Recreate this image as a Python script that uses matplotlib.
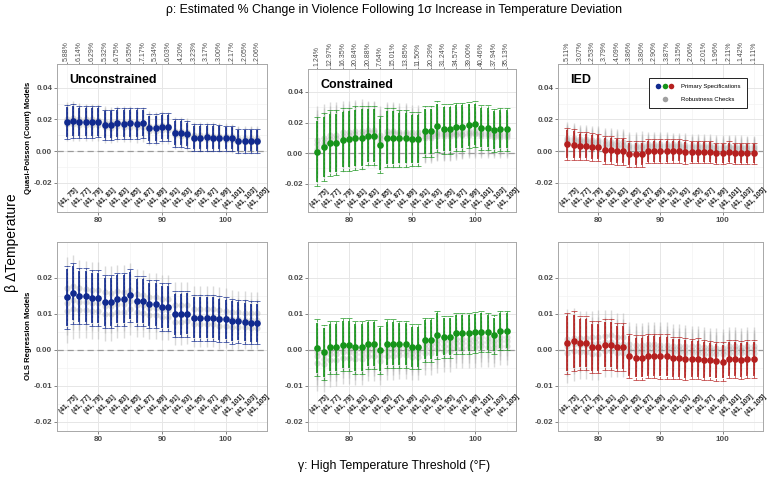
import matplotlib.pyplot as plt
import numpy as np
from matplotlib.lines import Line2D
from matplotlib.legend_handler import HandlerTuple
from matplotlib.ticker import MultipleLocator

plt.rcParams['font.family'] = ['Liberation Sans', 'DejaVu Sans']

# === Data ===
thresholds = np.arange(75, 106)
label_thresholds = thresholds[::2]

unc_pct = ['5.88%', '6.14%', '6.29%', '5.32%', '6.75%', '6.35%', '7.17%', '5.34%',
           '6.03%', '4.20%', '3.23%', '3.17%', '3.00%', '2.17%', '2.05%', '2.06%']
con_pct = ['1.24%', '12.97%', '16.35%', '20.84%', '20.88%', '7.64%', '15.01%', '13.85%',
           '11.50%', '20.29%', '31.24%', '34.57%', '39.00%', '40.46%', '37.94%', '35.13%']
ied_pct = ['5.11%', '3.07%', '2.53%', '3.79%', '4.09%', '3.86%', '3.80%', '2.90%',
           '3.87%', '3.15%', '2.06%', '2.01%', '1.96%', '2.11%', '1.42%', '1.11%']

top_ticks = [-0.02, 0.00, 0.02, 0.04]
bot_ticks = [-0.02, -0.01, 0.00, 0.01, 0.02]

# Quasi-Poisson, unconstrained
unc_qp_est = [0.0185, 0.0188, 0.0185, 0.0185, 0.0184, 0.0186, 0.0165, 0.0165, 0.0175, 0.0174, 0.0176,
              0.0172, 0.0177, 0.0143, 0.0143, 0.0152, 0.0152, 0.0113, 0.0113, 0.0106, 0.0085, 0.0085,
              0.0086, 0.0085, 0.0084, 0.0080, 0.0080, 0.0065, 0.0064, 0.0065, 0.0065]
unc_qp_ci = [0.0095, 0.0095, 0.0088, 0.0088, 0.0088, 0.0088, 0.0085, 0.0085, 0.0085, 0.0085, 0.0085,
             0.0085, 0.0085, 0.0078, 0.0078, 0.0076, 0.0076, 0.0075, 0.0075, 0.0074, 0.0072, 0.0072,
             0.0072, 0.0072, 0.0072, 0.0070, 0.0070, 0.0066, 0.0066, 0.0066, 0.0066]
unc_qp_wide = [0.0107, 0.0107, 0.0100, 0.0100, 0.0100, 0.0100, 0.0097, 0.0097, 0.0097, 0.0097, 0.0097,
               0.0097, 0.0097, 0.0090, 0.0090, 0.0088, 0.0088, 0.0087, 0.0087, 0.0086, 0.0083, 0.0083,
               0.0083, 0.0083, 0.0083, 0.0081, 0.0081, 0.0077, 0.0077, 0.0077, 0.0077]
unc_qp_rob = [
    [0.0205, 0.0208, 0.0204, 0.0200, 0.0200, 0.0198, 0.0185, 0.0183, 0.0188, 0.0186, 0.0187, 0.0182,
     0.0180, 0.0160, 0.0158, 0.0162, 0.0160, 0.0128, 0.0126, 0.0120, 0.0102, 0.0101, 0.0100, 0.0098,
     0.0097, 0.0094, 0.0093, 0.0082, 0.0081, 0.0080, 0.0080],
    [0.0168, 0.0170, 0.0166, 0.0165, 0.0163, 0.0164, 0.0150, 0.0148, 0.0156, 0.0155, 0.0154, 0.0150,
     0.0152, 0.0128, 0.0127, 0.0133, 0.0132, 0.0100, 0.0098, 0.0094, 0.0078, 0.0077, 0.0077, 0.0076,
     0.0075, 0.0071, 0.0070, 0.0058, 0.0058, 0.0057, 0.0057],
    [0.0192, 0.0195, 0.0190, 0.0190, 0.0188, 0.0190, 0.0172, 0.0170, 0.0180, 0.0178, 0.0180, 0.0176,
     0.0178, 0.0150, 0.0148, 0.0156, 0.0155, 0.0118, 0.0117, 0.0112, 0.0092, 0.0091, 0.0091, 0.0090,
     0.0089, 0.0086, 0.0085, 0.0072, 0.0071, 0.0072, 0.0071],
]

# Quasi-Poisson, constrained
con_qp_est = [0.0010, 0.0040, 0.0067, 0.0068, 0.0089, 0.0090, 0.0100, 0.0101, 0.0115, 0.0115, 0.0055,
              0.0102, 0.0102, 0.0098, 0.0098, 0.0091, 0.0091, 0.0143, 0.0143, 0.0176, 0.0159, 0.0159,
              0.0172, 0.0172, 0.0183, 0.0189, 0.0167, 0.0167, 0.0150, 0.0155, 0.0155]
con_qp_ci = [0.0200, 0.0195, 0.0190, 0.0190, 0.0183, 0.0183, 0.0185, 0.0185, 0.0172, 0.0172, 0.0165,
             0.0172, 0.0172, 0.0165, 0.0165, 0.0158, 0.0158, 0.0147, 0.0147, 0.0148, 0.0145, 0.0145,
             0.0140, 0.0140, 0.0135, 0.0135, 0.0128, 0.0128, 0.0124, 0.0124, 0.0124]
con_qp_wide = [0.0225, 0.0220, 0.0214, 0.0214, 0.0206, 0.0206, 0.0208, 0.0208, 0.0194, 0.0194, 0.0186,
               0.0194, 0.0194, 0.0186, 0.0186, 0.0178, 0.0178, 0.0166, 0.0166, 0.0167, 0.0164, 0.0164,
               0.0158, 0.0158, 0.0152, 0.0152, 0.0145, 0.0145, 0.0140, 0.0140, 0.0140]
con_qp_rob = [
    [0.0060, 0.0075, 0.0095, 0.0100, 0.0115, 0.0118, 0.0125, 0.0128, 0.0138, 0.0140, 0.0100, 0.0128,
     0.0130, 0.0125, 0.0126, 0.0120, 0.0120, 0.0125, 0.0126, 0.0140, 0.0135, 0.0136, 0.0140, 0.0142,
     0.0145, 0.0148, 0.0138, 0.0136, 0.0130, 0.0132, 0.0132],
    [0.0030, 0.0050, 0.0070, 0.0072, 0.0085, 0.0088, 0.0095, 0.0096, 0.0105, 0.0106, 0.0070, 0.0095,
     0.0096, 0.0092, 0.0093, 0.0088, 0.0088, 0.0100, 0.0101, 0.0115, 0.0110, 0.0111, 0.0116, 0.0117,
     0.0120, 0.0122, 0.0113, 0.0112, 0.0106, 0.0108, 0.0108],
    [0.0085, 0.0100, 0.0118, 0.0120, 0.0135, 0.0136, 0.0142, 0.0143, 0.0150, 0.0150, 0.0120, 0.0142,
     0.0143, 0.0140, 0.0140, 0.0135, 0.0136, 0.0110, 0.0112, 0.0125, 0.0122, 0.0122, 0.0128, 0.0128,
     0.0132, 0.0134, 0.0125, 0.0124, 0.0118, 0.0120, 0.0120],
]

# Quasi-Poisson, IED
ied_qp_est = [0.0044, 0.0040, 0.0032, 0.0032, 0.0025, 0.0023, 0.0006, 0.0006, 0.0000, 0.0000, -0.0019,
              -0.0019, -0.0019, 0.0000, 0.0000, 0.0000, 0.0000, 0.0000, 0.0000, -0.0006, -0.0006, -0.0006,
              -0.0006, -0.0006, -0.0015, -0.0015, -0.0006, -0.0015, -0.0015, -0.0015, -0.0015]
ied_qp_ci = [0.0087, 0.0085, 0.0078, 0.0078, 0.0076, 0.0076, 0.0075, 0.0075, 0.0074, 0.0074, 0.0072,
             0.0072, 0.0072, 0.0066, 0.0066, 0.0066, 0.0066, 0.0064, 0.0064, 0.0063, 0.0062, 0.0062,
             0.0062, 0.0062, 0.0060, 0.0060, 0.0060, 0.0060, 0.0058, 0.0058, 0.0058]
ied_qp_wide = [0.0099, 0.0097, 0.0089, 0.0089, 0.0087, 0.0087, 0.0086, 0.0086, 0.0085, 0.0085, 0.0083,
               0.0083, 0.0083, 0.0076, 0.0076, 0.0076, 0.0076, 0.0074, 0.0074, 0.0073, 0.0072, 0.0072,
               0.0072, 0.0072, 0.0069, 0.0069, 0.0069, 0.0069, 0.0067, 0.0067, 0.0067]
ied_qp_rob = [
    [0.0085, 0.0082, 0.0078, 0.0076, 0.0072, 0.0070, 0.0062, 0.0060, 0.0056, 0.0055, 0.0040, 0.0040,
     0.0041, 0.0045, 0.0045, 0.0044, 0.0044, 0.0043, 0.0042, 0.0038, 0.0038, 0.0037, 0.0037, 0.0036,
     0.0032, 0.0032, 0.0035, 0.0032, 0.0032, 0.0031, 0.0031],
    [0.0060, 0.0058, 0.0052, 0.0050, 0.0046, 0.0045, 0.0032, 0.0030, 0.0026, 0.0026, 0.0010, 0.0010,
     0.0011, 0.0020, 0.0020, 0.0020, 0.0019, 0.0018, 0.0018, 0.0014, 0.0014, 0.0013, 0.0013, 0.0013,
     0.0008, 0.0008, 0.0012, 0.0008, 0.0008, 0.0008, 0.0008],
    [0.0072, 0.0070, 0.0065, 0.0064, 0.0060, 0.0058, 0.0046, 0.0045, 0.0040, 0.0040, 0.0025, 0.0025,
     0.0026, 0.0032, 0.0032, 0.0031, 0.0031, 0.0030, 0.0030, 0.0026, 0.0026, 0.0025, 0.0025, 0.0025,
     0.0020, 0.0020, 0.0024, 0.0020, 0.0020, 0.0020, 0.0020],
]

# OLS, unconstrained
unc_ols_est = [0.0146, 0.0158, 0.0149, 0.0149, 0.0145, 0.0145, 0.0134, 0.0134, 0.0141, 0.0141, 0.0152,
               0.0136, 0.0136, 0.0127, 0.0127, 0.0120, 0.0120, 0.0099, 0.0099, 0.0101, 0.0090, 0.0090,
               0.0090, 0.0090, 0.0085, 0.0085, 0.0080, 0.0080, 0.0078, 0.0076, 0.0076]
unc_ols_ci = [0.0079, 0.0076, 0.0070, 0.0070, 0.0069, 0.0069, 0.0066, 0.0066, 0.0066, 0.0066, 0.0065,
              0.0062, 0.0062, 0.0060, 0.0060, 0.0059, 0.0059, 0.0057, 0.0057, 0.0057, 0.0057, 0.0057,
              0.0057, 0.0057, 0.0057, 0.0055, 0.0055, 0.0053, 0.0053, 0.0053, 0.0053]
unc_ols_wide = [0.0088, 0.0085, 0.0078, 0.0078, 0.0077, 0.0077, 0.0074, 0.0074, 0.0074, 0.0074, 0.0073,
                0.0069, 0.0069, 0.0067, 0.0067, 0.0066, 0.0066, 0.0064, 0.0064, 0.0064, 0.0064, 0.0064,
                0.0064, 0.0064, 0.0064, 0.0062, 0.0062, 0.0060, 0.0060, 0.0060, 0.0060]
unc_ols_rob = [
    [0.0171, 0.0178, 0.0172, 0.0170, 0.0168, 0.0167, 0.0160, 0.0158, 0.0163, 0.0162, 0.0168, 0.0155,
     0.0154, 0.0148, 0.0147, 0.0142, 0.0141, 0.0125, 0.0124, 0.0124, 0.0115, 0.0114, 0.0114, 0.0113,
     0.0110, 0.0109, 0.0106, 0.0105, 0.0104, 0.0102, 0.0102],
    [0.0107, 0.0115, 0.0110, 0.0110, 0.0108, 0.0108, 0.0100, 0.0100, 0.0106, 0.0106, 0.0114, 0.0105,
     0.0104, 0.0098, 0.0098, 0.0093, 0.0093, 0.0078, 0.0078, 0.0080, 0.0072, 0.0072, 0.0072, 0.0072,
     0.0068, 0.0068, 0.0064, 0.0064, 0.0063, 0.0062, 0.0062],
    [0.0130, 0.0140, 0.0134, 0.0133, 0.0130, 0.0130, 0.0122, 0.0121, 0.0128, 0.0127, 0.0136, 0.0124,
     0.0124, 0.0118, 0.0117, 0.0112, 0.0112, 0.0098, 0.0097, 0.0100, 0.0092, 0.0092, 0.0092, 0.0091,
     0.0088, 0.0088, 0.0085, 0.0085, 0.0083, 0.0082, 0.0082],
]

# OLS, constrained
con_ols_est = [0.0006, -0.0006, 0.0007, 0.0007, 0.0015, 0.0015, 0.0007, 0.0007, 0.0016, 0.0016, 0.0001,
               0.0018, 0.0018, 0.0016, 0.0016, 0.0009, 0.0009, 0.0029, 0.0029, 0.0042, 0.0037, 0.0037,
               0.0047, 0.0047, 0.0047, 0.0049, 0.0051, 0.0049, 0.0043, 0.0054, 0.0054]
con_ols_ci = [0.0070, 0.0068, 0.0066, 0.0066, 0.0065, 0.0065, 0.0065, 0.0065, 0.0061, 0.0061, 0.0060,
              0.0060, 0.0060, 0.0058, 0.0058, 0.0055, 0.0055, 0.0054, 0.0054, 0.0060, 0.0052, 0.0052,
              0.0051, 0.0051, 0.0051, 0.0051, 0.0051, 0.0048, 0.0047, 0.0048, 0.0048]
con_ols_wide = [0.0079, 0.0076, 0.0074, 0.0074, 0.0073, 0.0073, 0.0073, 0.0073, 0.0068, 0.0068, 0.0067,
                0.0067, 0.0067, 0.0065, 0.0065, 0.0062, 0.0062, 0.0061, 0.0061, 0.0067, 0.0058, 0.0058,
                0.0057, 0.0057, 0.0057, 0.0057, 0.0057, 0.0054, 0.0053, 0.0054, 0.0054]
con_ols_rob = [
    [-0.0036, -0.0040, -0.0028, -0.0027, -0.0022, -0.0022, -0.0025, -0.0024, -0.0018, -0.0018, -0.0030,
     -0.0016, -0.0016, -0.0015, -0.0015, -0.0020, -0.0020, -0.0008, -0.0008, 0.0002, -0.0002, -0.0002,
     0.0006, 0.0006, 0.0007, 0.0008, 0.0010, 0.0008, 0.0005, 0.0012, 0.0012],
    [-0.0018, -0.0024, -0.0012, -0.0012, -0.0006, -0.0006, -0.0010, -0.0010, -0.0004, -0.0004, -0.0016,
     -0.0002, -0.0002, -0.0003, -0.0003, -0.0008, -0.0008, 0.0006, 0.0006, 0.0016, 0.0012, 0.0012,
     0.0020, 0.0020, 0.0020, 0.0022, 0.0023, 0.0021, 0.0017, 0.0026, 0.0026],
    [-0.0005, -0.0012, 0.0000, 0.0000, 0.0006, 0.0006, 0.0000, 0.0000, 0.0007, 0.0007, -0.0006,
     0.0009, 0.0009, 0.0007, 0.0007, 0.0001, 0.0001, 0.0017, 0.0017, 0.0028, 0.0024, 0.0024,
     0.0031, 0.0031, 0.0031, 0.0033, 0.0035, 0.0033, 0.0028, 0.0037, 0.0037],
]

# OLS, IED
ied_ols_est = [0.0019, 0.0024, 0.0020, 0.0020, 0.0008, 0.0008, 0.0015, 0.0015, 0.0008, 0.0008, -0.0017,
               -0.0021, -0.0021, -0.0017, -0.0017, -0.0018, -0.0018, -0.0022, -0.0022, -0.0025, -0.0025,
               -0.0024, -0.0028, -0.0028, -0.0031, -0.0032, -0.0024, -0.0024, -0.0027, -0.0024, -0.0024]
ied_ols_ci = [0.0076, 0.0074, 0.0067, 0.0067, 0.0065, 0.0065, 0.0062, 0.0062, 0.0060, 0.0060, 0.0055,
              0.0055, 0.0055, 0.0055, 0.0055, 0.0055, 0.0055, 0.0052, 0.0052, 0.0052, 0.0050, 0.0050,
              0.0050, 0.0048, 0.0048, 0.0047, 0.0047, 0.0047, 0.0047, 0.0047, 0.0047]
ied_ols_wide = [0.0085, 0.0083, 0.0075, 0.0075, 0.0073, 0.0073, 0.0070, 0.0070, 0.0067, 0.0067, 0.0062,
                0.0062, 0.0062, 0.0062, 0.0062, 0.0062, 0.0062, 0.0059, 0.0059, 0.0059, 0.0056, 0.0056,
                0.0056, 0.0054, 0.0054, 0.0053, 0.0053, 0.0053, 0.0053, 0.0053, 0.0053]
ied_ols_rob = [
    [0.0030, 0.0034, 0.0032, 0.0032, 0.0036, 0.0037, 0.0040, 0.0041, 0.0036, 0.0036, 0.0016, 0.0014,
     0.0014, 0.0016, 0.0016, 0.0015, 0.0015, 0.0012, 0.0012, 0.0010, 0.0010, 0.0010, 0.0008, 0.0008,
     0.0006, 0.0005, 0.0010, 0.0010, 0.0008, 0.0010, 0.0010],
    [-0.0008, -0.0004, -0.0006, -0.0006, -0.0010, -0.0010, -0.0004, -0.0004, -0.0008, -0.0008, -0.0004,
     -0.0006, -0.0006, -0.0003, -0.0003, -0.0004, -0.0004, -0.0006, -0.0006, -0.0008, -0.0008, -0.0008,
     -0.0010, -0.0010, -0.0012, -0.0012, -0.0007, -0.0007, -0.0009, -0.0007, -0.0007],
    [0.0012, 0.0016, 0.0014, 0.0014, 0.0018, 0.0019, 0.0022, 0.0022, 0.0018, 0.0018, 0.0006, 0.0004,
     0.0004, 0.0007, 0.0007, 0.0006, 0.0006, 0.0003, 0.0003, 0.0001, 0.0001, 0.0001, -0.0001, -0.0001,
     -0.0003, -0.0004, 0.0002, 0.0002, 0.0000, 0.0002, 0.0002],
]

blue = '#112a8f'
green = '#16941a'
red = '#b5201f'
gray = '#adadad'

# === Figure ===
fig = plt.figure(figsize=(7.67, 4.78), dpi=100)
W, H = 767, 478


def box(l, r, t, b):
    return [l / W, 1 - b / H, (r - l) / W, (b - t) / H]


def draw(ax, est, ci, wide, robs, color, ylim, yticks, label_y, pct=None, title=None):
    ax.set_xlim(73.5, 106.5)
    ax.set_ylim(*ylim)
    ax.xaxis.set_major_locator(MultipleLocator(10))
    ax.xaxis.set_minor_locator(MultipleLocator(5))
    ax.set_yticks(yticks)
    step = yticks[1] - yticks[0]
    ax.set_yticks([t + step / 2 for t in yticks[:-1]], minor=True)
    ax.set_axisbelow(True)
    ax.grid(which='major', color='#e6e6e6', lw=0.7)
    ax.grid(which='minor', color='#f3f3f3', lw=0.5)
    for s in ax.spines.values():
        s.set_color('#a8a8a8')
        s.set_linewidth(0.7)
    ax.tick_params(which='both', length=2, width=0.5, color='#555555', labelsize=5.8,
                   labelcolor='#4d4d4d', pad=1.5)
    ax.tick_params(which='minor', length=0)
    ax.yaxis.set_major_formatter(plt.FuncFormatter(lambda v, p: f'{v:.2f}'))
    for lab in ax.get_xticklabels() + ax.get_yticklabels():
        lab.set_fontweight('bold')

    for r in robs:
        ax.errorbar(thresholds, r, yerr=wide, fmt='o', color=gray, ms=4.4, mew=0,
                    elinewidth=1.0, capsize=2.2, capthick=0.9, alpha=0.45, zorder=2)
    ax.axhline(0, color='#9a9a9a', lw=0.9, ls=(0, (5, 3)), zorder=3)
    eb = ax.errorbar(thresholds, est, yerr=wide, fmt='none', ecolor=color, elinewidth=0.6,
                     capsize=2.2, capthick=0.6, alpha=0.8, zorder=4)
    eb[2][0].set_linestyle((0, (3, 2)))
    ax.errorbar(thresholds, est, yerr=ci, fmt='o', color=color, ms=4.8, mew=0,
                elinewidth=1.2, capsize=2.4, capthick=1.2, zorder=5)

    for t in label_thresholds:
        ax.text(t + 0.3, label_y, f'(41, {t}]', rotation=45, rotation_mode='anchor',
                ha='center', va='center', fontsize=4.8, fontweight='bold', color='#1a1a1a', zorder=6)

    if pct is not None:
        top = ax.secondary_xaxis('top')
        top.set_xticks(label_thresholds, labels=pct)
        top.tick_params(length=1.5, width=0.5, color='#555555', labelsize=5,
                        labelcolor='#4d4d4d', rotation=90, pad=1)
        top.spines['top'].set_color('#a8a8a8')
        top.spines['top'].set_linewidth(0.7)
    if title is not None:
        ax.text(0.06, 0.89, title, transform=ax.transAxes, fontsize=9, fontweight='bold',
                ha='left', va='center', color='black', zorder=7)


top_lim = (-0.0385, 0.0550)
bot_lim = (-0.0225, 0.0300)

ax1 = fig.add_axes(box(57, 267, 64, 212))
draw(ax1, unc_qp_est, unc_qp_ci, unc_qp_wide, unc_qp_rob, blue, top_lim, top_ticks, -0.0295,
     unc_pct, 'Unconstrained')
ax2 = fig.add_axes(box(308, 516, 69, 212))
draw(ax2, con_qp_est, con_qp_ci, con_qp_wide, con_qp_rob, green, top_lim, top_ticks, -0.0295,
     con_pct, 'Constrained')
ax3 = fig.add_axes(box(558, 763, 64, 212))
draw(ax3, ied_qp_est, ied_qp_ci, ied_qp_wide, ied_qp_rob, red, top_lim, top_ticks, -0.0295,
     ied_pct, 'IED')

ax4 = fig.add_axes(box(57, 267, 242, 431))
draw(ax4, unc_ols_est, unc_ols_ci, unc_ols_wide, unc_ols_rob, blue, bot_lim, bot_ticks, -0.0152)
ax5 = fig.add_axes(box(308, 516, 242, 431))
draw(ax5, con_ols_est, con_ols_ci, con_ols_wide, con_ols_rob, green, bot_lim, bot_ticks, -0.0152)
ax6 = fig.add_axes(box(558, 763, 242, 431))
draw(ax6, ied_ols_est, ied_ols_ci, ied_ols_wide, ied_ols_rob, red, bot_lim, bot_ticks, -0.0152)

# legend
prim = tuple(Line2D([], [], ls='none', marker='o', ms=4, mew=0, color=c) for c in (blue, green, red))
rob = Line2D([], [], ls='none', marker='o', ms=4, mew=0, color='#a0a0a0')
leg = ax3.legend([prim, rob], ['Primary Specifications', 'Robustness Checks'],
                 handler_map={tuple: HandlerTuple(ndivide=None, pad=0)},
                 loc='upper left', bbox_to_anchor=(0.43, 0.925), fontsize=4.3,
                 frameon=True, fancybox=False, edgecolor='#222222', framealpha=1,
                 borderpad=1.0, labelspacing=1.3, handlelength=3.2, handletextpad=1.2)
leg.get_frame().set_linewidth(0.7)

# outer labels
fig.text(394 / W, 1 - 10 / H, 'ρ: Estimated % Change in Violence Following 1σ Increase in Temperature Deviation',
         ha='center', va='center', fontsize=8.8)
fig.text(394 / W, 1 - 466 / H, 'γ: High Temperature Threshold (°F)', ha='center', va='center', fontsize=8.8)
fig.text(12 / W, 1 - 243 / H, 'β ΔTemperature', rotation=90, ha='center', va='center', fontsize=10)
fig.text(29 / W, 1 - 138 / H, 'Quasi-Poisson (Count) Models', rotation=90, ha='center', va='center',
         fontsize=5.6, fontweight='bold')
fig.text(29 / W, 1 - 336 / H, 'OLS Regression Models', rotation=90, ha='center', va='center',
         fontsize=5.6, fontweight='bold')

fig.savefig('out.png', dpi=100)
